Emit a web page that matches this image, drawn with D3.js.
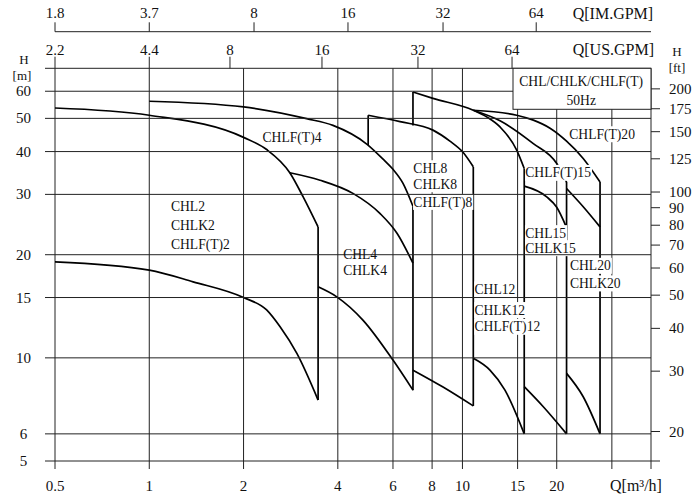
<!DOCTYPE html>
<html><head><meta charset="utf-8">
<script src="https://cdn.jsdelivr.net/npm/d3@7/dist/d3.min.js"></script>
<style>
body{margin:0;background:#fff}
svg{display:block}
text{font-family:"Liberation Serif","Times New Roman",serif;fill:#111}
</style>
</head><body>
<svg id="chart" width="700" height="503"></svg>
<script>
// ---------- DATA ----------
const qGrid        = [0.5, 1, 2, 4, 6, 8, 10, 15, 20, 30, 40];
const qTickLabels  = ["0.5","1","2","4","6","8","10","15","20","",""];
const hGrid        = [5, 6, 10, 15, 20, 30, 40, 50, 60, 70];
const hTickLabels  = ["5","6","10","15","20","30","40","50","60",""];
const ftTicks      = [200,175,150,125,100,90,80,70,60,50,40,30,20];
const usTickLabels = ["2.2","4.4","8","16","32","64"];
const usTickQ      = [0.5, 1, 1.81, 3.56, 7.21, 14.4];
const imTickLabels = ["1.8","3.7","8","16","32","64"];
const imTickQ      = [0.5, 1, 2.16, 4.31, 8.67, 17.2];
const FT_PER_M = 3.2808;

// pump curves: Q [m3/h], H [m]
const chl2UpperQ = [0.5, 1.0, 2.0, 2.37, 2.81, 3.1, 3.46];
const chl2UpperH = [53.6, 51.05, 44.0, 40.55, 34.7, 29.5, 24.1];
const chl2LowerQ = [0.5, 1.0, 1.38, 2.0, 2.37, 2.62, 2.96, 3.46];
const chl2LowerH = [19.06, 18.03, 16.67, 15.0, 13.8, 12.3, 10.3, 7.53];
const chl2EdgeQ  = [3.46, 3.46];
const chl2EdgeH  = [24.1, 7.53];

const chl4TopQ   = [1.0, 2.0, 3.18, 3.86, 4.96, 5.58, 6.0, 6.46, 6.95];
const chl4TopH   = [56.1, 54.0, 49.9, 47.7, 42.0, 38.0, 35.5, 32.3, 27.7];
const chl4MidQ   = [2.81, 3.51, 4.47, 5.45, 6.18, 6.95];
const chl4MidH   = [34.7, 33.0, 30.2, 26.4, 23.1, 18.9];
const chl4LowQ   = [3.46, 3.97, 4.81, 6.0, 6.95];
const chl4LowH   = [16.12, 15.07, 12.89, 9.85, 8.05];
const chl4EdgeQ  = [6.95, 6.95];
const chl4EdgeH  = [27.7, 8.05];

const chl8StartQ = [5.0, 5.0];
const chl8StartH = [51.05, 41.8];
const chl8TopQ   = [5.0, 6.32, 8.05, 9.12, 10.04, 10.83];
const chl8TopH   = [51.05, 48.9, 46.2, 42.9, 39.8, 36.1];
const chl8LowQ   = [6.95, 8.67, 10.83];
const chl8LowH   = [9.21, 8.22, 7.24];
const chl8EdgeQ  = [10.83, 10.83];
const chl8EdgeH  = [36.1, 7.24];

const chl12StartQ = [6.95, 6.95];
const chl12StartH = [59.7, 47.7];
const chl12TopQ   = [6.95, 8.05, 10.83, 11.95, 13.18, 14.9, 15.75];
const chl12TopH   = [59.7, 57.2, 52.8, 50.5, 47.2, 40.4, 35.7];
const chl12LowQ   = [10.83, 12.24, 13.67, 15.75];
const chl12LowH   = [9.97, 9.21, 8.05, 6.0];
const chl12EdgeQ  = [15.75, 15.75];
const chl12EdgeH  = [35.7, 6.0];

const chl15TopQ   = [10.83, 13.18, 16.84, 20.0, 21.5];
const chl15TopH   = [52.8, 49.2, 42.2, 36.9, 32.6];
const chl15MidQ   = [15.75, 18.58, 20.0, 21.5];
const chl15MidH   = [31.7, 29.5, 27.5, 24.0];
const chl15LowQ   = [15.75, 18.12, 21.5];
const chl15LowH   = [8.24, 7.20, 6.0];
const chl15EdgeQ  = [21.5, 21.5];
const chl15EdgeH  = [32.6, 6.0];

const chl20TopQ   = [10.83, 14.9, 16.84, 19.04, 21.5, 24.3, 27.5];
const chl20TopH   = [52.8, 51.05, 49.4, 46.8, 42.9, 38.2, 32.6];
const chl20MidQ   = [21.5, 24.3, 27.5];
const chl20MidH   = [31.2, 27.6, 24.1];
const chl20LowQ   = [21.5, 24.3, 27.5];
const chl20LowH   = [9.01, 7.70, 6.0];
const chl20EdgeQ  = [27.5, 27.5];
const chl20EdgeH  = [32.6, 6.0];

// label texts anchored at (Q,H) of their left / vertical centre
const labelTexts = ["CHL2","CHLK2","CHLF(T)2","CHLF(T)4","CHL4","CHLK4",
  "CHL8","CHLK8","CHLF(T)8","CHL12","CHLK12","CHLF(T)12",
  "CHLF(T)15","CHL15","CHLK15","CHL20","CHLK20","CHLF(T)20"];
const labelQ = [1.173,1.173,1.173, 2.30, 4.16,4.16, 6.97,6.97,6.97,
  10.93,10.93,10.93, 15.87,15.87,15.87, 22.05,22.05, 21.93];
const labelH = [27.7,24.28,21.43, 44.15, 20.07,17.95, 35.77,32.12,28.52,
  15.84,13.79,12.32, 34.67,23.12,20.9, 18.56,16.49, 44.94];
const legendLines = ["CHL/CHLK/CHLF(T)","50Hz"];

// ---------- CHART ----------
const svg = d3.select("#chart");
const x = d3.scaleLog().domain([0.5, 40]).range([55, 651]);
const y = d3.scaleLog().domain([5, 70]).range([461, 68.3]);
const yTop = y(70), yBot = y(5);
const xL = x(0.5), xR = x(40);

const gV = svg.append("g"), gC = svg.append("g"), gR = svg.append("g"),
      gH = svg.append("g"), gLeg = svg.append("g"), gT = svg.append("g");

const GRID = "#222";
// vertical grid (with bottom tick extension)
gV.selectAll("line").data(qGrid).join("line")
  .attr("x1", d => x(d)).attr("x2", d => x(d))
  .attr("y1", yTop).attr("y2", yBot + 8)
  .attr("stroke", GRID).attr("stroke-width", 1);

// horizontal grid (with left tick extension)
gH.selectAll("line").data(hGrid).join("line")
  .attr("x1", xL - 10).attr("x2", d => d === 5 ? xR + 9 : xR)
  .attr("y1", d => y(d)).attr("y2", d => y(d))
  .attr("stroke", GRID).attr("stroke-width", 1);

// right ft ticks
gH.selectAll("line.ft").data(ftTicks).join("line").attr("class","ft")
  .attr("x1", xR).attr("x2", xR + 9)
  .attr("y1", d => y(d / FT_PER_M)).attr("y2", d => y(d / FT_PER_M))
  .attr("stroke", GRID).attr("stroke-width", 1);

// US GPM ticks (upwards from frame top)
gH.selectAll("line.us").data(usTickQ).join("line").attr("class","us")
  .attr("x1", d => x(d)).attr("x2", d => x(d))
  .attr("y1", yTop - 11.6).attr("y2", yTop)
  .attr("stroke", GRID).attr("stroke-width", 1);

// IM GPM axis
const imY = 31.7;
gH.append("line").attr("x1", xL).attr("x2", xR).attr("y1", imY).attr("y2", imY)
  .attr("stroke", GRID).attr("stroke-width", 1);
gH.selectAll("line.im").data(imTickQ).join("line").attr("class","im")
  .attr("x1", d => x(d)).attr("x2", d => x(d))
  .attr("y1", imY - 9.4).attr("y2", imY)
  .attr("stroke", GRID).attr("stroke-width", 1);

// curves
const series = [
  [chl2UpperQ,chl2UpperH],[chl2LowerQ,chl2LowerH],[chl2EdgeQ,chl2EdgeH],
  [chl4TopQ,chl4TopH],[chl4MidQ,chl4MidH],[chl4LowQ,chl4LowH],[chl4EdgeQ,chl4EdgeH],
  [chl8StartQ,chl8StartH],[chl8TopQ,chl8TopH],[chl8LowQ,chl8LowH],[chl8EdgeQ,chl8EdgeH],
  [chl12StartQ,chl12StartH],[chl12TopQ,chl12TopH],[chl12LowQ,chl12LowH],[chl12EdgeQ,chl12EdgeH],
  [chl15TopQ,chl15TopH],[chl15MidQ,chl15MidH],[chl15LowQ,chl15LowH],[chl15EdgeQ,chl15EdgeH],
  [chl20TopQ,chl20TopH],[chl20MidQ,chl20MidH],[chl20LowQ,chl20LowH],[chl20EdgeQ,chl20EdgeH]
].map(([qs,hs]) => qs.map((q,i) => [q, hs[i]]));

const lineGen = d3.line().x(d => x(d[0])).y(d => y(d[1]));
gC.selectAll("path").data(series).join("path")
  .attr("d", d => {
    const same = d.every(p => p[0] === d[0][0]);
    return lineGen.curve(same ? d3.curveLinear : d3.curveMonotoneX)(d);
  })
  .attr("fill","none").attr("stroke","#000").attr("stroke-width",1.7)
  .attr("stroke-linejoin","round");

// ---------- TEXT ----------
function txt(g, s, px, cy, fs, anchor) {
  return g.append("text").attr("x", px).attr("y", cy + 0.34 * fs)
    .attr("font-size", fs).attr("text-anchor", anchor || "start").text(s);
}
const TF = 15;
// bottom ticks
qGrid.forEach((q,i) => { if (qTickLabels[i]) txt(gT, qTickLabels[i], x(q), 486, TF, "middle"); });
txt(gT, "Q[m³/h]", 610, 486, 16, "start");
// left ticks
hGrid.forEach((h,i) => { if (hTickLabels[i]) txt(gT, hTickLabels[i], 23.5, y(h), TF, "middle"); });
txt(gT, "H", 24, 60, 13, "middle");
txt(gT, "[m]", 22, 76, 13, "middle");
// right ft ticks
ftTicks.forEach(f => txt(gT, String(f), 669, y(f / FT_PER_M), TF, "start"));
txt(gT, "H", 677, 52, 13, "middle");
txt(gT, "[ft]", 677, 67.5, 13, "middle");
// top axes
usTickQ.forEach((q,i) => txt(gT, usTickLabels[i], x(q), 50, TF, "middle"));
txt(gT, "Q[US.GPM]", 572.7, 50, 16, "start");
imTickQ.forEach((q,i) => txt(gT, imTickLabels[i], x(q), 13.3, TF, "middle"));
txt(gT, "Q[IM.GPM]", 572.7, 13.3, 16, "start");

// curve labels with white background
const LF = 13.6;
labelTexts.forEach((s,i) => {
  const t = txt(gT, s, x(labelQ[i]), y(labelH[i]), LF, "start");
  const b = t.node().getBBox();
  gR.append("rect").attr("x", b.x - 0.3).attr("y", y(labelH[i]) - 8)
    .attr("width", b.width + 1.2).attr("height", 16).attr("fill", "#fff");
});

// legend box
const legX = 513, legY = yTop, legW = xR - 513, legH = 41;
gLeg.append("rect").attr("x", legX).attr("y", legY).attr("width", legW).attr("height", legH)
  .attr("fill","#fff").attr("stroke","#222").attr("stroke-width",1);
txt(gT, legendLines[0], x(23.95), 81.7, LF, "middle");
txt(gT, legendLines[1], x(23.95), 100, LF, "middle");
</script>
</body></html>
